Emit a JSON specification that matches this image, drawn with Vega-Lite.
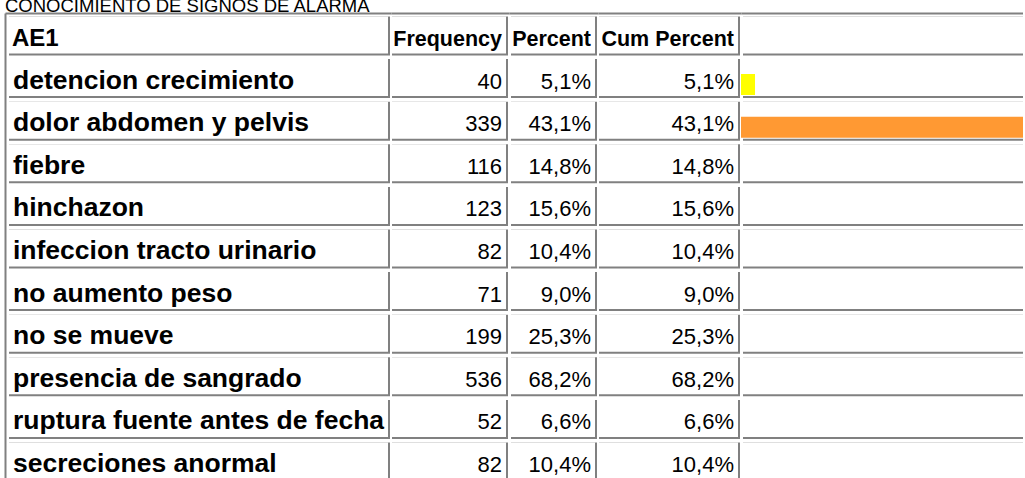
{
  "$schema": "https://vega.github.io/schema/vega-lite/v6.json",
  "background": "white",
  "padding": {"left": 5, "right": -1, "top": -4, "bottom": -6},
  "title": {"text": "CONOCIMIENTO DE SIGNOS DE ALARMA", "anchor": "start", "fontSize": 18.5, "fontWeight": "normal", "color": "black", "font": "Liberation Sans", "offset": -17, "baseline": "alphabetic"},
  "datasets": {
    "table": [
      {"AE1": "detencion crecimiento", "Frequency": 40, "Percent": 0.051, "CumPercent": 0.051},
      {"AE1": "dolor abdomen y pelvis", "Frequency": 339, "Percent": 0.431, "CumPercent": 0.431},
      {"AE1": "fiebre", "Frequency": 116, "Percent": 0.148, "CumPercent": 0.148},
      {"AE1": "hinchazon", "Frequency": 123, "Percent": 0.156, "CumPercent": 0.156},
      {"AE1": "infeccion tracto urinario", "Frequency": 82, "Percent": 0.104, "CumPercent": 0.104},
      {"AE1": "no aumento peso", "Frequency": 71, "Percent": 0.09, "CumPercent": 0.09},
      {"AE1": "no se mueve", "Frequency": 199, "Percent": 0.253, "CumPercent": 0.253},
      {"AE1": "presencia de sangrado", "Frequency": 536, "Percent": 0.682, "CumPercent": 0.682},
      {"AE1": "ruptura fuente antes de fecha", "Frequency": 52, "Percent": 0.066, "CumPercent": 0.066},
      {"AE1": "secreciones anormal", "Frequency": 82, "Percent": 0.104, "CumPercent": 0.104}
    ],
    "header": [{"AE1": "AE1"}]
  },
  "spacing": 0,
  "bounds": "flush",
  "resolve": {"scale": {"x": "independent", "y": "independent"}, "axis": {"x": "independent", "y": "independent"}},
  "hconcat": [
    {
      "width": 386, "height": 472,
      "layer": [
        {"data": {"name": "table"}, "mark": {"type": "rect", "color": "#808080", "height": 39, "xOffset": 4, "x2Offset": -1},
         "encoding": {
           "x": {"datum": 0, "type": "quantitative", "scale": {"domain": [0, 1], "nice": false, "zero": false}, "axis": {"orient": "top", "domain": true, "domainColor": "#808080", "domainWidth": 2, "labels": false, "ticks": false, "grid": false, "title": null, "minExtent": 0}},
           "x2": {"datum": 1},
           "y": {"field": "AE1", "type": "nominal", "sort": null, "scale": {"domain": ["AE1","detencion crecimiento","dolor abdomen y pelvis","fiebre","hinchazon","infeccion tracto urinario","no aumento peso","no se mueve","presencia de sangrado","ruptura fuente antes de fecha","secreciones anormal"], "paddingInner": 0.0845, "paddingOuter": 0.08}, "axis": {"orient": "left", "domain": true, "domainColor": "#808080", "domainWidth": 2, "labels": false, "ticks": false, "grid": false, "title": null, "minExtent": 0}}
         }},
        {"data": {"name": "header"}, "mark": {"type": "rect", "color": "#808080", "height": 39, "xOffset": 4, "x2Offset": -1},
         "encoding": {"x": {"datum": 0, "type": "quantitative"}, "x2": {"datum": 1}, "y": {"field": "AE1", "type": "nominal", "sort": null}}},
        {"data": {"name": "table"}, "mark": {"type": "rect", "color": "white", "height": 37, "yOffset": -1, "xOffset": 4, "x2Offset": -3},
         "encoding": {"x": {"datum": 0, "type": "quantitative"}, "x2": {"datum": 1}, "y": {"field": "AE1", "type": "nominal", "sort": null}}},
        {"data": {"name": "header"}, "mark": {"type": "rect", "color": "white", "height": 37, "yOffset": -1, "xOffset": 4, "x2Offset": -3},
         "encoding": {"x": {"datum": 0, "type": "quantitative"}, "x2": {"datum": 1}, "y": {"field": "AE1", "type": "nominal", "sort": null}}},
        {"data": {"name": "header"}, "mark": {"type": "text", "align": "left", "baseline": "alphabetic", "font": "Liberation Sans", "fontSize": 24, "fontWeight": "bold", "color": "black", "xOffset": 7, "yOffset": 10},
         "encoding": {"x": {"datum": 0, "type": "quantitative"}, "y": {"field": "AE1", "type": "nominal", "sort": null}, "text": {"field": "AE1"}}},
        {"data": {"name": "table"}, "mark": {"type": "text", "align": "left", "baseline": "alphabetic", "font": "Liberation Sans", "fontSize": 26.5, "fontWeight": "bold", "color": "black", "xOffset": 8, "yOffset": 10},
         "encoding": {"x": {"datum": 0, "type": "quantitative"}, "y": {"field": "AE1", "type": "nominal", "sort": null}, "text": {"field": "AE1"}}}
      ]
    },
    {
      "width": 118, "height": 472,
      "layer": [
        {"data": {"name": "table"}, "mark": {"type": "rect", "color": "#808080", "height": 39, "xOffset": 1, "x2Offset": -1},
         "encoding": {
           "x": {"datum": 0, "type": "quantitative", "scale": {"domain": [0, 1], "nice": false, "zero": false}, "axis": {"orient": "top", "domain": true, "domainColor": "#808080", "domainWidth": 2, "labels": false, "ticks": false, "grid": false, "title": null, "minExtent": 0}},
           "x2": {"datum": 1},
           "y": {"field": "AE1", "type": "nominal", "sort": null, "scale": {"domain": ["AE1","detencion crecimiento","dolor abdomen y pelvis","fiebre","hinchazon","infeccion tracto urinario","no aumento peso","no se mueve","presencia de sangrado","ruptura fuente antes de fecha","secreciones anormal"], "paddingInner": 0.0845, "paddingOuter": 0.08}, "axis": null}
         }},
        {"data": {"name": "header"}, "mark": {"type": "rect", "color": "#808080", "height": 39, "xOffset": 1, "x2Offset": -1},
         "encoding": {"x": {"datum": 0, "type": "quantitative"}, "x2": {"datum": 1}, "y": {"field": "AE1", "type": "nominal", "sort": null}}},
        {"data": {"name": "table"}, "mark": {"type": "rect", "color": "white", "height": 37, "yOffset": -1, "xOffset": 1, "x2Offset": -3},
         "encoding": {"x": {"datum": 0, "type": "quantitative"}, "x2": {"datum": 1}, "y": {"field": "AE1", "type": "nominal", "sort": null}}},
        {"data": {"name": "header"}, "mark": {"type": "rect", "color": "white", "height": 37, "yOffset": -1, "xOffset": 1, "x2Offset": -3},
         "encoding": {"x": {"datum": 0, "type": "quantitative"}, "x2": {"datum": 1}, "y": {"field": "AE1", "type": "nominal", "sort": null}}},
        {"data": {"name": "header"}, "mark": {"type": "text", "align": "right", "baseline": "alphabetic", "font": "Liberation Sans", "fontSize": 21.5, "fontWeight": "bold", "color": "black", "xOffset": -7, "yOffset": 10},
         "encoding": {"x": {"datum": 1, "type": "quantitative"}, "y": {"field": "AE1", "type": "nominal", "sort": null}, "text": {"value": "Frequency"}}},
        {"data": {"name": "table"}, "mark": {"type": "text", "align": "right", "baseline": "alphabetic", "font": "Liberation Sans", "fontSize": 22, "color": "black", "xOffset": -7, "yOffset": 10},
         "encoding": {"x": {"datum": 1, "type": "quantitative"}, "y": {"field": "AE1", "type": "nominal", "sort": null}, "text": {"field": "Frequency", "type": "quantitative", "format": "d"}}}
      ]
    },
    {
      "width": 89, "height": 472,
      "layer": [
        {"data": {"name": "table"}, "mark": {"type": "rect", "color": "#808080", "height": 39, "xOffset": 2, "x2Offset": -1},
         "encoding": {
           "x": {"datum": 0, "type": "quantitative", "scale": {"domain": [0, 1], "nice": false, "zero": false}, "axis": {"orient": "top", "domain": true, "domainColor": "#808080", "domainWidth": 2, "labels": false, "ticks": false, "grid": false, "title": null, "minExtent": 0}},
           "x2": {"datum": 1},
           "y": {"field": "AE1", "type": "nominal", "sort": null, "scale": {"domain": ["AE1","detencion crecimiento","dolor abdomen y pelvis","fiebre","hinchazon","infeccion tracto urinario","no aumento peso","no se mueve","presencia de sangrado","ruptura fuente antes de fecha","secreciones anormal"], "paddingInner": 0.0845, "paddingOuter": 0.08}, "axis": null}
         }},
        {"data": {"name": "header"}, "mark": {"type": "rect", "color": "#808080", "height": 39, "xOffset": 2, "x2Offset": -1},
         "encoding": {"x": {"datum": 0, "type": "quantitative"}, "x2": {"datum": 1}, "y": {"field": "AE1", "type": "nominal", "sort": null}}},
        {"data": {"name": "table"}, "mark": {"type": "rect", "color": "white", "height": 37, "yOffset": -1, "xOffset": 2, "x2Offset": -3},
         "encoding": {"x": {"datum": 0, "type": "quantitative"}, "x2": {"datum": 1}, "y": {"field": "AE1", "type": "nominal", "sort": null}}},
        {"data": {"name": "header"}, "mark": {"type": "rect", "color": "white", "height": 37, "yOffset": -1, "xOffset": 2, "x2Offset": -3},
         "encoding": {"x": {"datum": 0, "type": "quantitative"}, "x2": {"datum": 1}, "y": {"field": "AE1", "type": "nominal", "sort": null}}},
        {"data": {"name": "header"}, "mark": {"type": "text", "align": "right", "baseline": "alphabetic", "font": "Liberation Sans", "fontSize": 21.5, "fontWeight": "bold", "color": "black", "xOffset": -7, "yOffset": 10},
         "encoding": {"x": {"datum": 1, "type": "quantitative"}, "y": {"field": "AE1", "type": "nominal", "sort": null}, "text": {"value": "Percent"}}},
        {"data": {"name": "table"}, "mark": {"type": "text", "align": "right", "baseline": "alphabetic", "font": "Liberation Sans", "fontSize": 22, "color": "black", "xOffset": -7, "yOffset": 10},
         "encoding": {"x": {"datum": 1, "type": "quantitative"}, "y": {"field": "AE1", "type": "nominal", "sort": null}, "text": {"field": "Percent", "type": "quantitative", "format": ".1%"}}}
      ]
    },
    {
      "width": 143, "height": 472,
      "layer": [
        {"data": {"name": "table"}, "mark": {"type": "rect", "color": "#808080", "height": 39, "xOffset": 1, "x2Offset": -1},
         "encoding": {
           "x": {"datum": 0, "type": "quantitative", "scale": {"domain": [0, 1], "nice": false, "zero": false}, "axis": {"orient": "top", "domain": true, "domainColor": "#808080", "domainWidth": 2, "labels": false, "ticks": false, "grid": false, "title": null, "minExtent": 0}},
           "x2": {"datum": 1},
           "y": {"field": "AE1", "type": "nominal", "sort": null, "scale": {"domain": ["AE1","detencion crecimiento","dolor abdomen y pelvis","fiebre","hinchazon","infeccion tracto urinario","no aumento peso","no se mueve","presencia de sangrado","ruptura fuente antes de fecha","secreciones anormal"], "paddingInner": 0.0845, "paddingOuter": 0.08}, "axis": null}
         }},
        {"data": {"name": "header"}, "mark": {"type": "rect", "color": "#808080", "height": 39, "xOffset": 1, "x2Offset": -1},
         "encoding": {"x": {"datum": 0, "type": "quantitative"}, "x2": {"datum": 1}, "y": {"field": "AE1", "type": "nominal", "sort": null}}},
        {"data": {"name": "table"}, "mark": {"type": "rect", "color": "white", "height": 37, "yOffset": -1, "xOffset": 1, "x2Offset": -3},
         "encoding": {"x": {"datum": 0, "type": "quantitative"}, "x2": {"datum": 1}, "y": {"field": "AE1", "type": "nominal", "sort": null}}},
        {"data": {"name": "header"}, "mark": {"type": "rect", "color": "white", "height": 37, "yOffset": -1, "xOffset": 1, "x2Offset": -3},
         "encoding": {"x": {"datum": 0, "type": "quantitative"}, "x2": {"datum": 1}, "y": {"field": "AE1", "type": "nominal", "sort": null}}},
        {"data": {"name": "header"}, "mark": {"type": "text", "align": "right", "baseline": "alphabetic", "font": "Liberation Sans", "fontSize": 21.5, "fontWeight": "bold", "color": "black", "xOffset": -7, "yOffset": 10},
         "encoding": {"x": {"datum": 1, "type": "quantitative"}, "y": {"field": "AE1", "type": "nominal", "sort": null}, "text": {"value": "Cum Percent"}}},
        {"data": {"name": "table"}, "mark": {"type": "text", "align": "right", "baseline": "alphabetic", "font": "Liberation Sans", "fontSize": 22, "color": "black", "xOffset": -7, "yOffset": 10},
         "encoding": {"x": {"datum": 1, "type": "quantitative"}, "y": {"field": "AE1", "type": "nominal", "sort": null}, "text": {"field": "CumPercent", "type": "quantitative", "format": ".1%"}}}
      ]
    },
    {
      "width": 283, "height": 472,
      "layer": [
        {"data": {"name": "table"}, "mark": {"type": "rect", "color": "#808080", "height": 39, "xOffset": 2},
         "encoding": {
           "x": {"datum": 0.0385, "type": "quantitative", "scale": {"domain": [0.0385, 0.431], "nice": false, "zero": false}, "axis": {"orient": "top", "domain": true, "domainColor": "#808080", "domainWidth": 2, "labels": false, "ticks": false, "grid": false, "title": null, "minExtent": 0}},
           "x2": {"datum": 0.431},
           "y": {"field": "AE1", "type": "nominal", "sort": null, "scale": {"domain": ["AE1","detencion crecimiento","dolor abdomen y pelvis","fiebre","hinchazon","infeccion tracto urinario","no aumento peso","no se mueve","presencia de sangrado","ruptura fuente antes de fecha","secreciones anormal"], "paddingInner": 0.0845, "paddingOuter": 0.08}, "axis": null}
         }},
        {"data": {"name": "header"}, "mark": {"type": "rect", "color": "#808080", "height": 39, "xOffset": 2},
         "encoding": {"x": {"datum": 0.0385, "type": "quantitative"}, "x2": {"datum": 0.431}, "y": {"field": "AE1", "type": "nominal", "sort": null}}},
        {"data": {"name": "table"}, "mark": {"type": "rect", "color": "white", "height": 37, "yOffset": -1, "xOffset": 2},
         "encoding": {"x": {"datum": 0.0385, "type": "quantitative"}, "x2": {"datum": 0.431}, "y": {"field": "AE1", "type": "nominal", "sort": null}}},
        {"data": {"name": "header"}, "mark": {"type": "rect", "color": "white", "height": 37, "yOffset": -1, "xOffset": 2},
         "encoding": {"x": {"datum": 0.0385, "type": "quantitative"}, "x2": {"datum": 0.431}, "y": {"field": "AE1", "type": "nominal", "sort": null}}},
        {"data": {"name": "table"},
         "transform": [{"filter": {"field": "AE1", "oneOf": ["detencion crecimiento", "dolor abdomen y pelvis"]}}],
         "mark": {"type": "bar", "height": 21, "yOffset": 6, "xOffset": 5, "clip": true},
         "encoding": {
           "x": {"field": "Percent", "type": "quantitative"},
           "y": {"field": "AE1", "type": "nominal", "sort": null},
           "color": {"field": "AE1", "type": "nominal", "scale": {"domain": ["detencion crecimiento", "dolor abdomen y pelvis"], "range": ["#FFFF00", "#FF9933"]}, "legend": null}
         }}
      ]
    }
  ],
  "config": {
    "view": {"stroke": null},
    "font": "Liberation Sans",
    "locale": {"number": {"decimal": ",", "thousands": ".", "grouping": [3], "currency": ["", " €"]}}
  }
}
